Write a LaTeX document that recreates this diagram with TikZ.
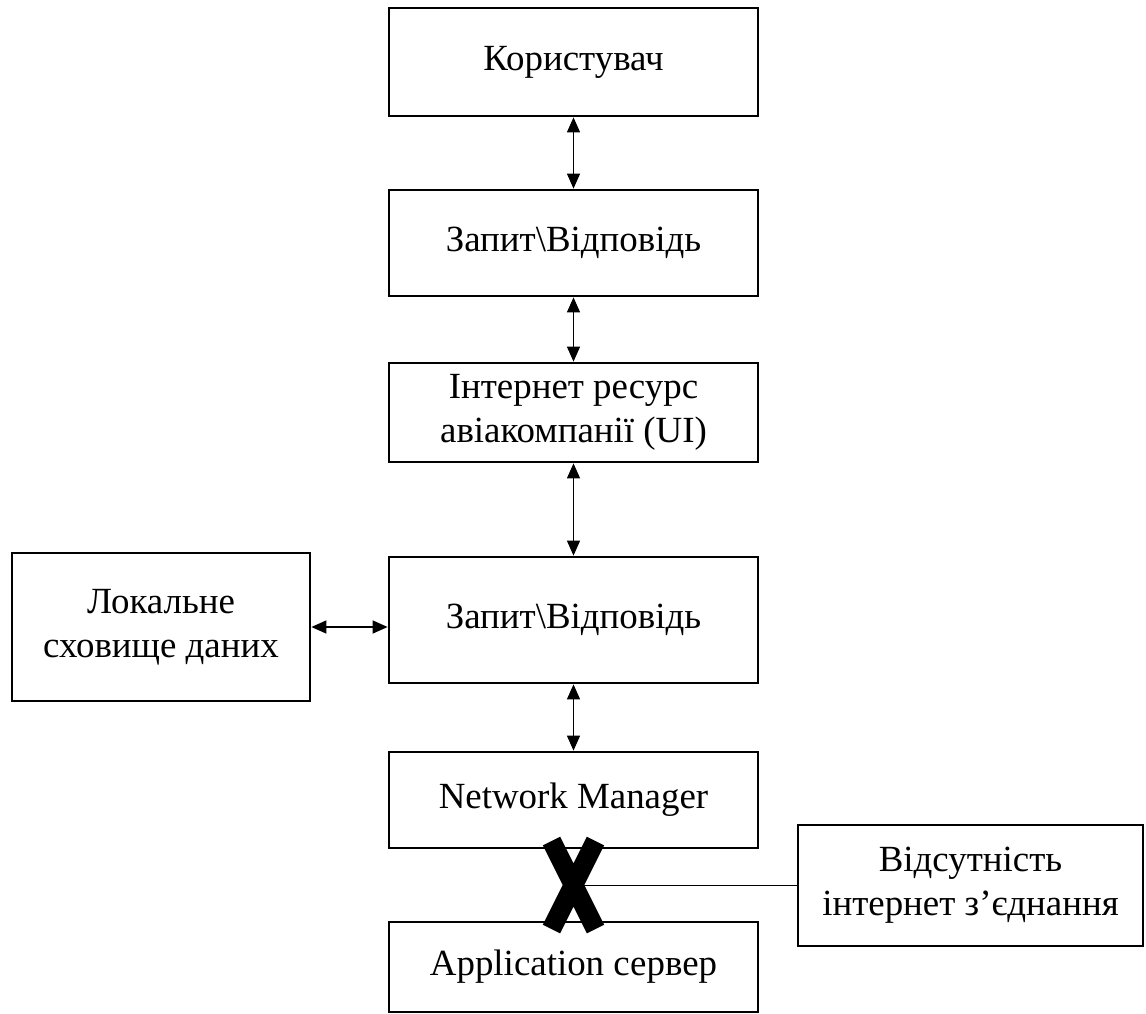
\documentclass[tikz,border=0pt]{standalone}
\usepackage{fontspec}
\setmainfont{Liberation Serif}
\usetikzlibrary{arrows.meta,calc}

\begin{document}
\begin{tikzpicture}[x=0.02cm, y=-0.02cm, font=\fontsize{21}{25}\selectfont,
	blok/.style={draw, line width=1.6pt, align=center, inner sep=0pt, minimum width=7.38cm},
	zvyazok/.style={line width=0.8pt, {Triangle[length=0.3cm,width=0.26cm]}-{Triangle[length=0.3cm,width=0.26cm]}}]
	
	% ------------------------------------------------------------
	% Frame (size of the picture in px)
	% ------------------------------------------------------------
	
	\useasboundingbox (0,0) rectangle (1146,1014);
	
	% ------------------------------------------------------------
	% Main column
	% ------------------------------------------------------------
	
	\def\xcol{573.5}
	
	\node[blok, minimum height=2.16cm] (kor) at (\xcol,62)
	{Користувач};
	
	\node[blok, minimum height=2.12cm] (zap1) at (\xcol,243)
	{Запит\textbackslash Відповідь};
	
	\node[blok, minimum height=1.98cm] (res) at (\xcol,412.5)
	{Інтернет ресурс\\авіакомпанії (UI)};
	
	\node[blok, minimum height=2.52cm] (zap2) at (\xcol,620)
	{Запит\textbackslash Відповідь};
	
	\node[blok, minimum height=1.92cm] (nm) at (\xcol,800)
	{Network Manager};
	
	\node[blok, minimum height=1.80cm] (app) at (\xcol,967)
	{Application сервер};
	
	% ------------------------------------------------------------
	% Side boxes
	% ------------------------------------------------------------
	
	\node[blok, minimum width=5.96cm, minimum height=2.96cm] (lok) at (161,627)
	{Локальне\\сховище даних};
	
	\node[blok, minimum width=6.9cm, minimum height=2.42cm] (vids) at (970.5,885.5)
	{Відсутність\\інтернет з’єднання};
	
	% ------------------------------------------------------------
	% Connections
	% ------------------------------------------------------------
	
	\draw[zvyazok] (kor) -- (zap1);
	\draw[zvyazok] (zap1) -- (res);
	\draw[zvyazok] (res) -- (zap2);
	\draw[zvyazok] (zap2) -- (nm);
	\draw[zvyazok] (lok.east) -- (lok.east -| zap2.west);
	
	% ------------------------------------------------------------
	% Broken link
	% ------------------------------------------------------------
	
	\coordinate (obryv) at ($(nm.south)!0.5!(app.north)$);
	
	\draw[line width=0.6pt] (vids.west) -- (vids.west -| obryv);
	
	\draw[line width=11pt]
	($(obryv)+(-22,-44)$) -- ($(obryv)+(22,44)$)
	($(obryv)+(22,-44)$) -- ($(obryv)+(-22,44)$);
\end{tikzpicture}
\end{document}
